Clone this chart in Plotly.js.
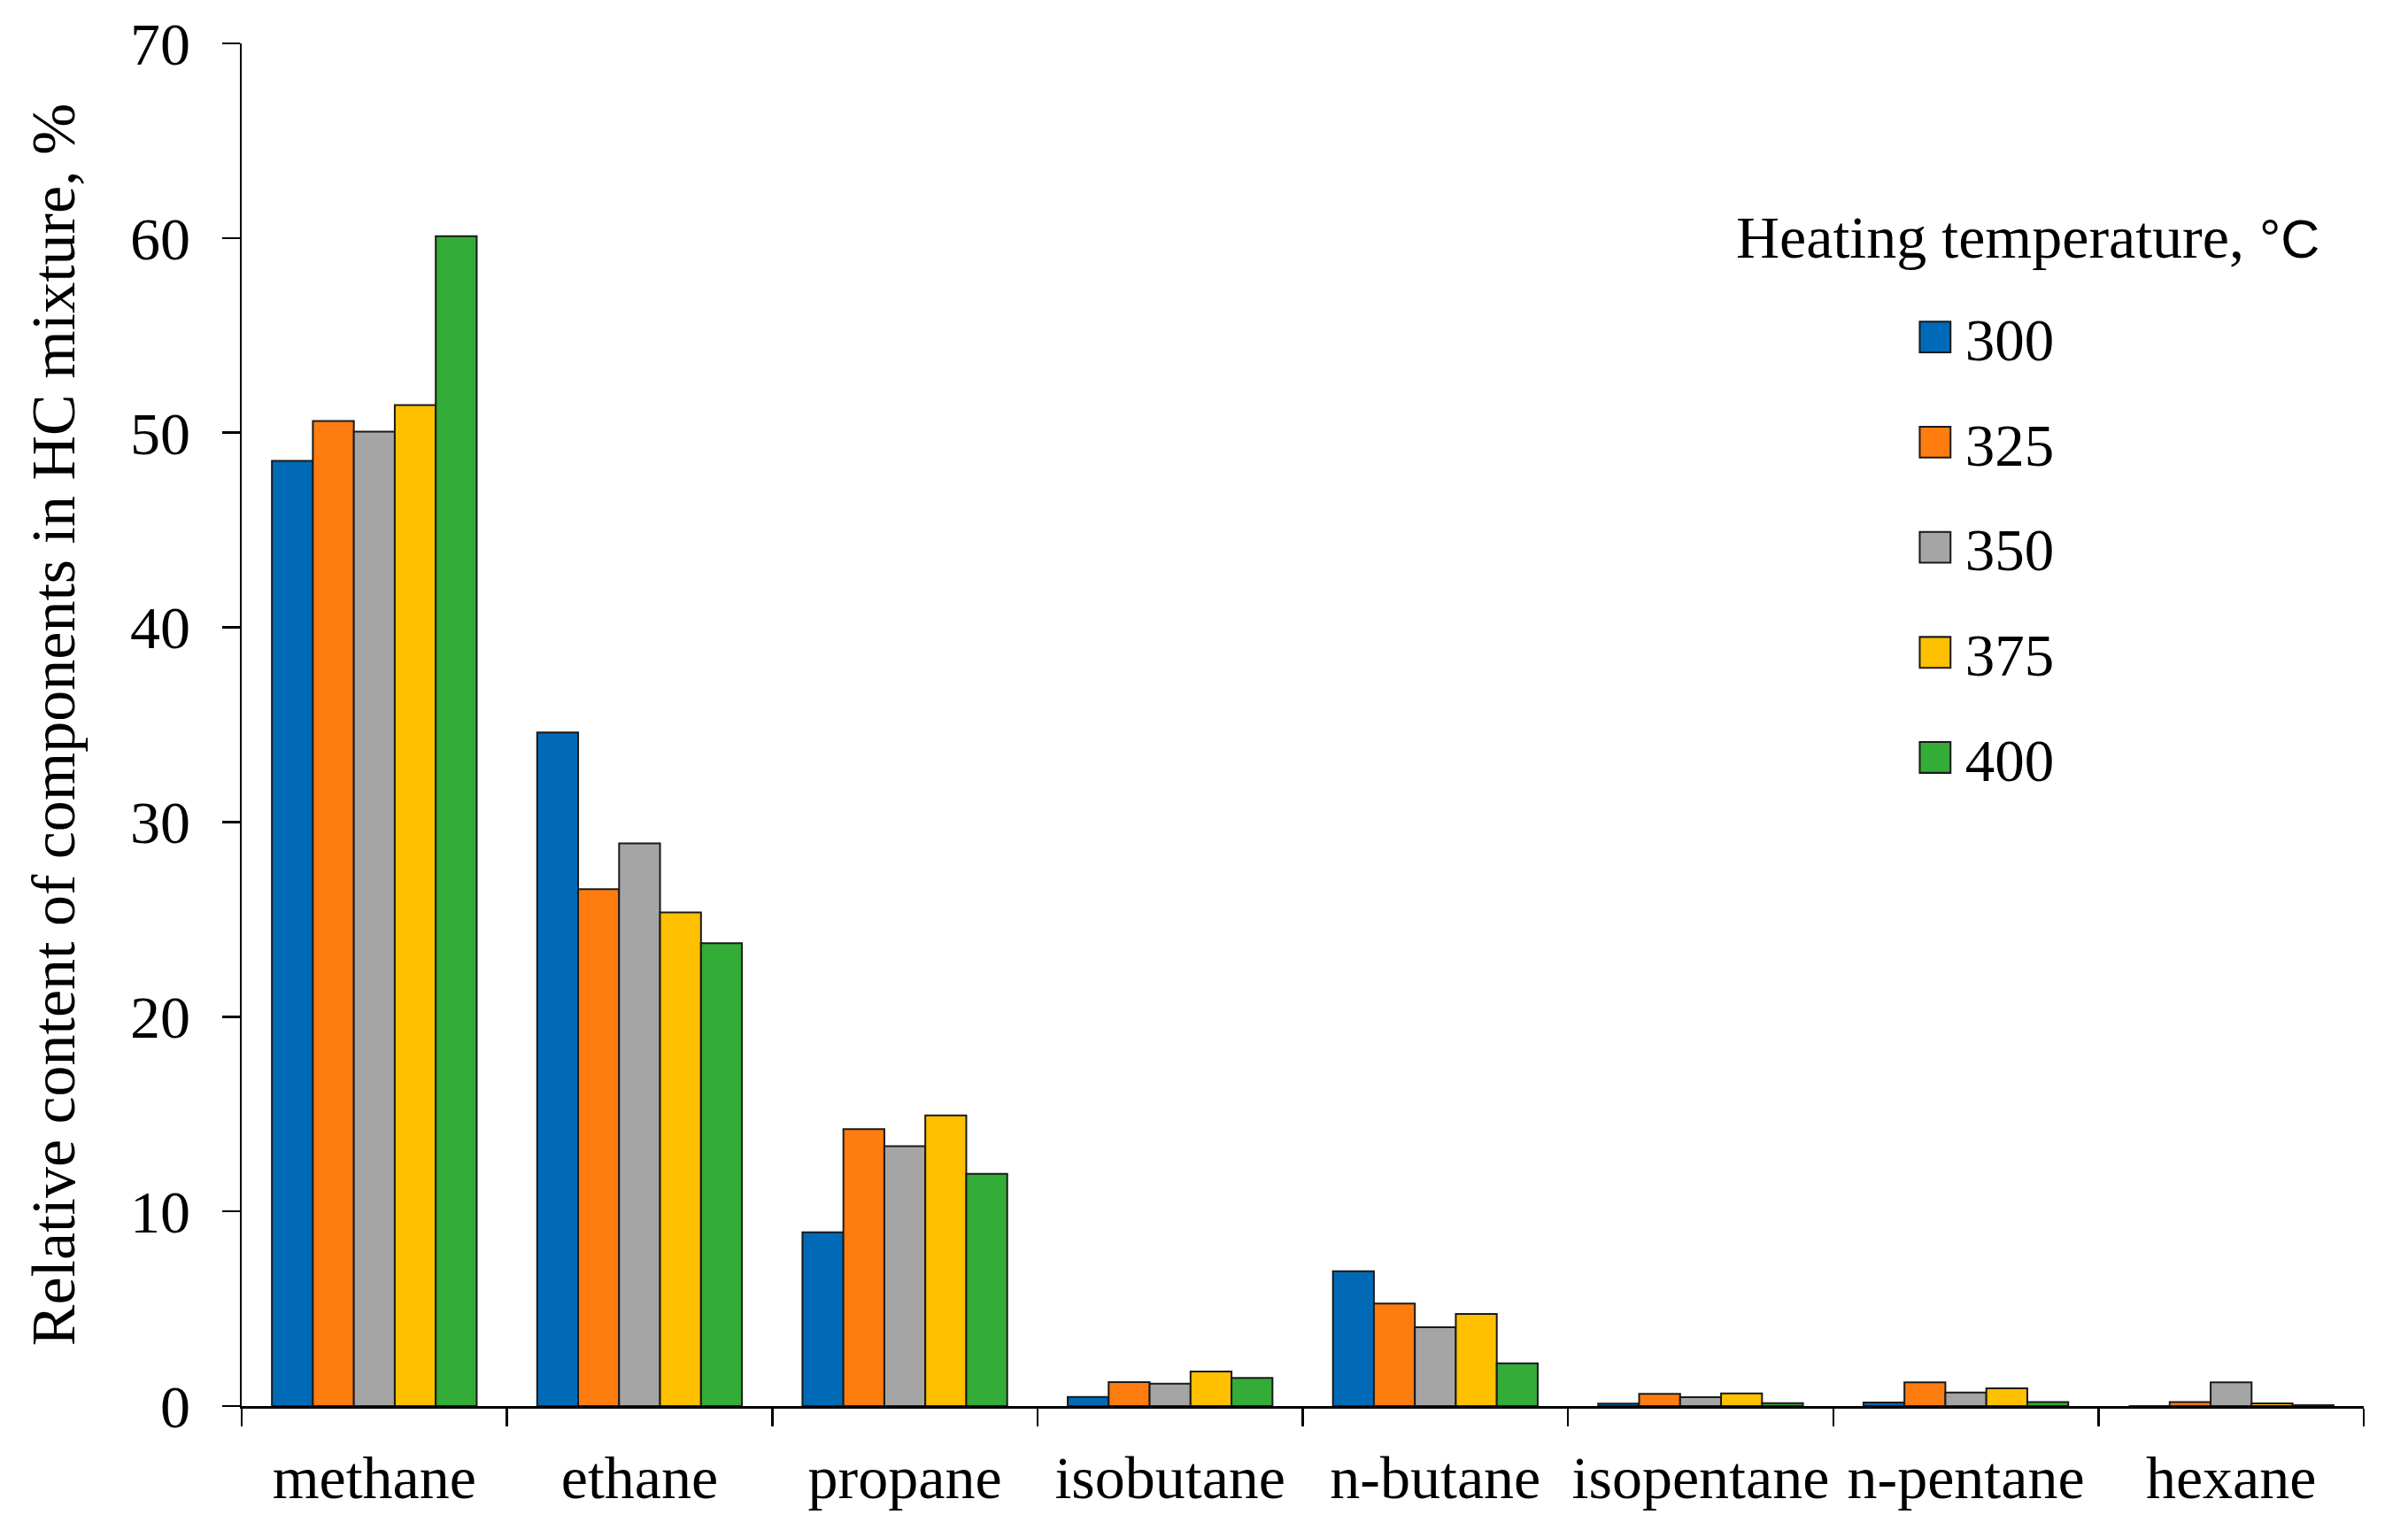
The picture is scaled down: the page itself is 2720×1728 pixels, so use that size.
<!DOCTYPE html>
<html>
<head>
<meta charset="utf-8">
<script src="https://cdn.plot.ly/plotly-3.0.1.min.js"></script>
<style>
  html, body { margin: 0; padding: 0; background: #ffffff; }
  #chart { width: 2720px; height: 1728px; }
</style>
</head>
<body>
<div id="chart"></div>
<script>
// ---- data ----
const categories = ["methane", "ethane", "propane", "isobutane", "n-butane", "isopentane", "n-pentane", "hexane"];
const seriesNames = ["300", "325", "350", "375", "400"];
const t300 = [48.55, 34.6, 8.93, 0.47, 6.93, 0.12, 0.18, 0.0];
const t325 = [50.6, 26.55, 14.22, 1.23, 5.27, 0.62, 1.22, 0.2];
const t350 = [50.05, 28.9, 13.35, 1.15, 4.05, 0.45, 0.69, 1.22];
const t375 = [51.42, 25.36, 14.93, 1.77, 4.73, 0.65, 0.91, 0.14];
const t400 = [60.1, 23.78, 11.93, 1.44, 2.2, 0.15, 0.2, 0.05];
const yTickVals = [0, 10, 20, 30, 40, 50, 60, 70];
const yTitle = "Relative content of components in HC mixture, %";
const legendTitleMain = "Heating temperature, ";
const legendTitleUnit = "°C";

const seriesValues = [t300, t325, t350, t375, t400];
const colors = ["#006AB6", "#FF7C10", "#A5A5A5", "#FFC000", "#33AC38"];

const FONT = "Liberation Serif, Times New Roman, serif";

const traces = seriesValues.map((vals, i) => ({
  type: "bar",
  name: seriesNames[i],
  x: categories,
  y: vals,
  legendgroup: "g" + i,
  marker: { color: colors[i], line: { color: "#1a1a1a", width: 2 } },
  hoverinfo: "x+y+name"
}));

const layout = {
  width: 2720,
  height: 1728,
  margin: { l: 273, r: 50, t: 49, b: 140 },
  paper_bgcolor: "#ffffff",
  plot_bgcolor: "#ffffff",
  font: { family: FONT, size: 68, color: "#000000" },
  barmode: "group",
  bargap: 0.228,
  bargroupgap: 0,
  showlegend: true,
  legend: {
    x: 0.783, xanchor: "left",
    y: 0.817, yanchor: "top",
    font: { family: FONT, size: 67, color: "#000" },
    traceorder: "grouped",
    tracegroupgap: 28.6,
    itemwidth: 60,
    bgcolor: "rgba(0,0,0,0)"
  },
  xaxis: {
    type: "category",
    showline: true, linecolor: "#000", linewidth: 2.5,
    ticks: "outside", tickson: "boundaries", ticklen: 20, tickwidth: 2.5, tickcolor: "#000",
    tickangle: 0,
    ticklabelstandoff: 20,
    tickfont: { family: FONT, size: 68, color: "#000" },
    showgrid: false, zeroline: false, automargin: false
  },
  yaxis: {
    range: [0, 70],
    tickvals: yTickVals,
    showline: true, linecolor: "#000", linewidth: 2.5,
    ticks: "outside", ticklen: 20, tickwidth: 2.5, tickcolor: "#000",
    ticklabelstandoff: 22,
    tickfont: { family: FONT, size: 68, color: "#000" },
    showgrid: false, zeroline: false, automargin: false,
    title: { text: yTitle, font: { family: FONT, size: 70, color: "#000" }, standoff: 40 }
  },
  annotations: [{
    xref: "paper", yref: "paper",
    x: 0.7033, y: 0.8577, xanchor: "left", yanchor: "middle",
    text: legendTitleMain + "<span style=\"font-family:'Liberation Sans', Arial, sans-serif; font-size:61px\">" + legendTitleUnit + "</span>",
    showarrow: false,
    font: { family: FONT, size: 68, color: "#000" }
  }]
};

Plotly.newPlot("chart", traces, layout, { displayModeBar: false, staticPlot: true }).then(() => {
  document.querySelectorAll(".legend .legendpoints path").forEach(p => {
    p.setAttribute("transform", "translate(36,0) scale(2.9)");
    p.style.strokeWidth = "0.7px";
  });
});
</script>
</body>
</html>
